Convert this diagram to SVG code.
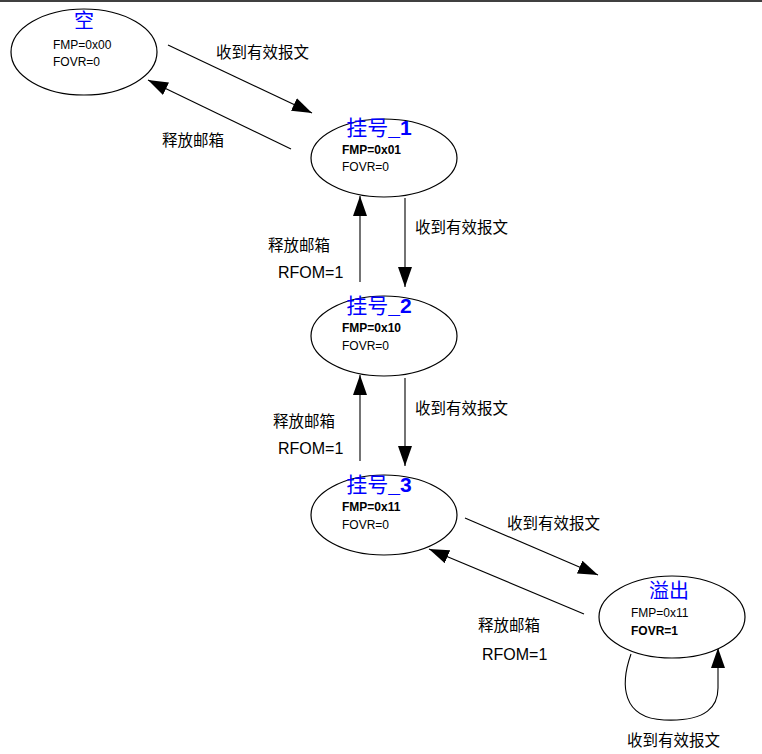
<svg xmlns="http://www.w3.org/2000/svg" width="762" height="754" viewBox="0 0 762 754">
<style>
.n{fill:#fff;stroke:#000;stroke-width:1.2}
.t{font-family:"Liberation Sans","Noto Sans CJK SC",sans-serif;font-size:12px;fill:#000}
.b{font-weight:bold}
.h{font-family:"Liberation Serif","Noto Sans CJK SC",serif;font-size:20px;fill:#00f;text-anchor:middle}
.hb{font-family:"Liberation Sans","Noto Sans CJK SC",sans-serif;font-size:21px;fill:#00f;text-anchor:middle}
.l{font-family:"Noto Sans CJK SC",sans-serif;font-size:15.5px;fill:#000}
.lr{font-family:"Liberation Sans",sans-serif;font-size:16px;fill:#000}
.c{fill:none;stroke:#000;stroke-width:1.1}
</style>
<defs><marker id="A" viewBox="0 0 20 10" refX="20" refY="5" markerWidth="20" markerHeight="14" markerUnits="userSpaceOnUse" orient="auto" preserveAspectRatio="none"><path d="M0,0L20,5L0,10z" fill="#000"/></marker></defs>
<line x1="0" y1="1" x2="762" y2="1" stroke="#000" stroke-width="1.5"/>
<g id="connectors">
<line class="c" x1="168" y1="45" x2="312" y2="113" marker-end="url(#A)"/>
<line class="c" x1="291" y1="149" x2="148" y2="80" marker-end="url(#A)"/>
<line class="c" x1="405" y1="198" x2="405" y2="287" marker-end="url(#A)"/>
<line class="c" x1="360" y1="282" x2="360" y2="196" marker-end="url(#A)"/>
<line class="c" x1="405" y1="378" x2="405" y2="466" marker-end="url(#A)"/>
<line class="c" x1="360" y1="461" x2="360" y2="375" marker-end="url(#A)"/>
<line class="c" x1="465" y1="518" x2="598" y2="575" marker-end="url(#A)"/>
<line class="c" x1="584" y1="614" x2="429" y2="549" marker-end="url(#A)"/>
<path class="c" d="M631,654 C620,685 622,718 664,720 C708,722 718,705 718,688 L718,648" marker-end="url(#A)"/>
<text class="l" x="216" y="58">收到有效报文</text>
<text class="l" x="162" y="146">释放邮箱</text>
<text class="l" x="415" y="233">收到有效报文</text>
<text class="l" x="268" y="251">释放邮箱</text>
<text class="lr" x="278" y="278">RFOM=1</text>
<text class="l" x="415" y="414">收到有效报文</text>
<text class="l" x="273" y="427">释放邮箱</text>
<text class="lr" x="278" y="454">RFOM=1</text>
<text class="l" x="507" y="529">收到有效报文</text>
<text class="l" x="478" y="631">释放邮箱</text>
<text class="lr" x="482" y="660">RFOM=1</text>
<text class="l" x="627" y="746">收到有效报文</text>
</g>
<g id="n0"><ellipse class="n" cx="84" cy="52" rx="73" ry="43"/><text class="h" x="84" y="28">空</text><text class="t" x="53" y="49">FMP=0x00</text><text class="t" x="53" y="66">FOVR=0</text></g>
<g id="n1"><ellipse class="n" cx="384" cy="158" rx="73" ry="39"/><text class="hb" x="379" y="135">挂号<tspan font-weight="bold">_1</tspan></text><text class="t b" x="342" y="154">FMP=0x01</text><text class="t" x="342" y="171">FOVR=0</text></g>
<g id="n2"><ellipse class="n" cx="384" cy="336" rx="73" ry="40"/><text class="hb" x="379" y="313">挂号<tspan font-weight="bold">_2</tspan></text><text class="t b" x="342" y="332">FMP=0x10</text><text class="t" x="342" y="350">FOVR=0</text></g>
<g id="n3"><ellipse class="n" cx="384" cy="515" rx="73" ry="40"/><text class="hb" x="379" y="492">挂号<tspan font-weight="bold">_3</tspan></text><text class="t b" x="342" y="511">FMP=0x11</text><text class="t" x="342" y="529">FOVR=0</text></g>
<g id="n4"><ellipse class="n" cx="672" cy="617" rx="73" ry="41"/><text class="h" x="669" y="598">溢出</text><text class="t" x="631" y="617">FMP=0x11</text><text class="t b" x="631" y="635">FOVR=1</text></g>
</svg>
